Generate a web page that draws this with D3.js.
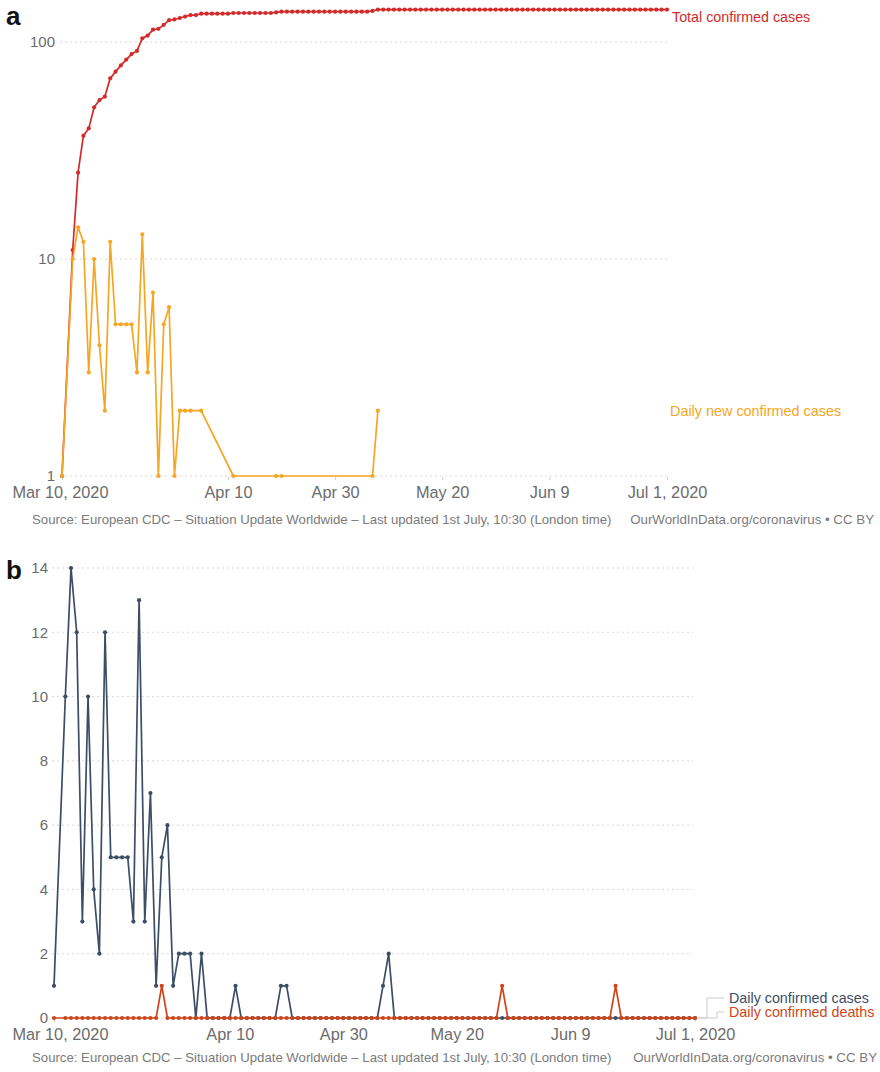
<!DOCTYPE html>
<html>
<head>
<meta charset="utf-8">
<script src="https://cdn.jsdelivr.net/npm/d3@7"></script>
<style>
  body { margin: 0; background: #fff; }
  svg { display: block; font-family: "Liberation Sans", Arial, Helvetica, sans-serif; }
</style>
</head>
<body>
<svg id="chart" width="880" height="1072"></svg>
<script>
// Daily reporting period (one entry per calendar day; null = no report that day)
const firstDay = "2020-03-10";
const lastDay = "2020-07-01";

// Daily new confirmed cases
const dailyCases = [
  // Mar 10 – Mar 31
  1, null, 10, 14, 12, 3, 10, 4, 2, 12, 5, 5, 5, 5, 3, 13, 3, 7, 1, 5, 6, 1,
  // Apr 1 – Apr 30
  2, 2, 2, 0, 2, 0, 0, 0, 0, 0, 1, 0, 0, 0, 0, 0, 0, 0, 1, 1, 0, 0, 0, 0, 0, 0, 0, 0, 0, 0,
  // May 1 – May 31
  0, 0, 0, 0, 0, 0, 1, 2, 0, 0, 0, 0, 0, 0, 0, 0, 0, 0, 0, 0, 0, 0, 0, 0, 0, 0, 0, 0, 0, 0, 0,
  // Jun 1 – Jun 30
  0, 0, 0, 0, 0, 0, 0, 0, 0, 0, 0, 0, 0, 0, 0, 0, 0, 0, 0, 0, 0, 0, 0, 0, 0, 0, 0, 0, 0, 0,
  // Jul 1
  0
];

// Total confirmed cases
const totalCases = [
  // Mar 10 – Mar 31
  1, null, 11, 25, 37, 40, 50, 54, 56, 68, 73, 78, 83, 88, 91, 104, 107, 114, 115, 120, 126, 127,
  // Apr 1 – Apr 30
  129, 131, 133, 133, 135, 135, 135, 135, 135, 135, 136, 136, 136, 136, 136, 136, 136, 136, 137, 138,
  138, 138, 138, 138, 138, 138, 138, 138, 138, 138,
  // May 1 – May 31
  138, 138, 138, 138, 138, 138, 139, 141, 141, 141, 141, 141, 141, 141, 141, 141, 141, 141, 141, 141,
  141, 141, 141, 141, 141, 141, 141, 141, 141, 141, 141,
  // Jun 1 – Jun 30
  141, 141, 141, 141, 141, 141, 141, 141, 141, 141, 141, 141, 141, 141, 141, 141, 141, 141, 141, 141,
  141, 141, 141, 141, 141, 141, 141, 141, 141, 141,
  // Jul 1
  141
];

// Daily confirmed deaths
const dailyDeaths = [
  // Mar 10 – Mar 31
  0, null, 0, 0, 0, 0, 0, 0, 0, 0, 0, 0, 0, 0, 0, 0, 0, 0, 0, 1, 0, 0,
  // Apr 1 – Apr 30
  0, 0, 0, 0, 0, 0, 0, 0, 0, 0, 0, 0, 0, 0, 0, 0, 0, 0, 0, 0, 0, 0, 0, 0, 0, 0, 0, 0, 0, 0,
  // May 1 – May 31
  0, 0, 0, 0, 0, 0, 0, 0, 0, 0, 0, 0, 0, 0, 0, 0, 0, 0, 0, 0, 0, 0, 0, 0, 0, 0, 0, 1, 0, 0, 0,
  // Jun 1 – Jun 30
  0, 0, 0, 0, 0, 0, 0, 0, 0, 0, 0, 0, 0, 0, 0, 0, 1, 0, 0, 0, 0, 0, 0, 0, 0, 0, 0, 0, 0, 0,
  // Jul 1
  0
];

// Axis ticks
const dateTicks = ["2020-03-10", "2020-04-10", "2020-04-30", "2020-05-20", "2020-06-09", "2020-07-01"];
const dateTickLabels = ["Mar 10, 2020", "Apr 10", "Apr 30", "May 20", "Jun 9", "Jul 1, 2020"];
const logTicks = [1, 10, 100];
const linearTicks = [0, 2, 4, 6, 8, 10, 12, 14];

const sourceText = "Source: European CDC \u2013 Situation Update Worldwide \u2013 Last updated 1st July, 10:30 (London time)";
const creditText = "OurWorldInData.org/coronavirus \u2022 CC BY";

const colors = {
  total: "#d42a2a",
  newCases: "#f5a623",
  cases: "#3c4e66",
  deaths: "#cf4519",
  grid: "#d9d9d9",
  tick: "#6b6b6b",
  source: "#7b7b7b"
};

const parse = d3.utcParse("%Y-%m-%d");
const days = d3.utcDay.range(parse(firstDay), d3.utcDay.offset(parse(lastDay), 1));

function toPoints(values, keep) {
  return days.map((d, i) => ({ date: d, value: values[i] }))
    .filter(p => p.value != null && keep(p.value));
}

const svg = d3.select("#chart");

function drawGrid(g, y, ticks, x0, x1) {
  g.append("g").selectAll("line").data(ticks).join("line")
    .attr("x1", x0).attr("x2", x1)
    .attr("y1", d => y(d)).attr("y2", d => y(d))
    .attr("stroke", colors.grid).attr("stroke-width", 1)
    .attr("stroke-dasharray", "2,3");
}

function drawYLabels(g, y, ticks, xRight) {
  g.append("g").selectAll("text").data(ticks).join("text")
    .attr("x", xRight).attr("y", d => y(d)).attr("dy", "0.35em")
    .attr("text-anchor", "end")
    .attr("font-size", 15).attr("fill", colors.tick)
    .text(d => d);
}

function drawXAxis(g, x, yBase) {
  const axis = d3.axisBottom(x)
    .tickValues(dateTicks.map(parse))
    .tickFormat((d, i) => dateTickLabels[i])
    .tickSize(3).tickPadding(6);
  const ax = g.append("g").attr("transform", `translate(0,${yBase})`).call(axis);
  ax.select(".domain").remove();
  ax.selectAll(".tick line").attr("stroke", "#cfcfcf");
  ax.selectAll(".tick text").attr("font-size", 16.3).attr("fill", colors.tick)
    .attr("font-family", "'Liberation Sans', Arial, sans-serif");
  // keep the first label inside the left margin
  ax.selectAll(".tick").filter((d, i) => i === 0).select("text")
    .attr("text-anchor", "start").attr("x", 12 - x(parse(dateTicks[0])));
}

function drawSeries(g, x, y, points, color) {
  const line = d3.line().x(d => x(d.date)).y(d => y(d.value));
  g.append("path").datum(points)
    .attr("fill", "none").attr("stroke", color)
    .attr("stroke-width", 1.7).attr("stroke-linejoin", "round")
    .attr("d", line);
  g.append("g").selectAll("circle").data(points).join("circle")
    .attr("cx", d => x(d.date)).attr("cy", d => y(d.value))
    .attr("r", 2.1).attr("fill", color);
}

function drawSource(g, yBase, x0, x1) {
  g.append("text").attr("x", x0).attr("y", yBase)
    .attr("font-size", 13.2).attr("fill", colors.source).text(sourceText);
  g.append("text").attr("x", x1).attr("y", yBase).attr("text-anchor", "end")
    .attr("font-size", 13.3).attr("fill", colors.source).text(creditText);
}

// ---------- Panel a: log scale, total and daily new confirmed cases ----------
{
  const g = svg.append("g");
  const x = d3.scaleUtc().domain([parse(firstDay), parse(lastDay)]).range([62, 667]);
  const y = d3.scaleLog().domain([1, 100]).range([476, 42]);

  g.append("text").attr("x", 6).attr("y", 25)
    .attr("font-size", 26).attr("font-weight", "bold").attr("fill", "#111").text("a");

  drawGrid(g, y, logTicks, 60, 667);
  drawYLabels(g, y, logTicks, 55);
  drawXAxis(g, x, 477);

  drawSeries(g, x, y, toPoints(totalCases, v => v > 0), colors.total);
  drawSeries(g, x, y, toPoints(dailyCases, v => v > 0), colors.newCases);

  g.append("text").attr("x", 672).attr("y", 22)
    .attr("font-size", 14.3).attr("fill", colors.total).text("Total confirmed cases");
  g.append("text").attr("x", 670).attr("y", 416)
    .attr("font-size", 14.4).attr("fill", colors.newCases).text("Daily new confirmed cases");

  drawSource(g, 524, 32, 874);
}

// ---------- Panel b: linear scale, daily cases and deaths ----------
{
  const g = svg.append("g");
  const x = d3.scaleUtc().domain([parse(firstDay), parse(lastDay)]).range([54, 695]);
  const y = d3.scaleLinear().domain([0, 14]).range([1018, 568]);

  g.append("text").attr("x", 6).attr("y", 579)
    .attr("font-size", 26).attr("font-weight", "bold").attr("fill", "#111").text("b");

  drawGrid(g, y, linearTicks, 52, 693);
  drawYLabels(g, y, linearTicks, 48);
  drawXAxis(g, x, 1019);

  drawSeries(g, x, y, toPoints(dailyCases, () => true), colors.cases);
  drawSeries(g, x, y, toPoints(dailyDeaths, () => true), colors.deaths);

  // legend connectors from the series ends to their labels
  const xEnd = x(parse(lastDay));
  const y0 = y(0);
  const legend = [
    { name: "Daily confirmed cases", color: colors.cases, ly: 998, bend: 707 },
    { name: "Daily confirmed deaths", color: colors.deaths, ly: 1012, bend: 717 }
  ];
  legend.forEach(l => {
    g.append("path")
      .attr("d", `M${xEnd + 3},${y0}H${l.bend}V${l.ly}H${724}`)
      .attr("fill", "none").attr("stroke", "#cccccc").attr("stroke-width", 1);
    g.append("text").attr("x", 729).attr("y", l.ly).attr("dy", "0.35em")
      .attr("font-size", 14.3).attr("fill", l.color).text(l.name);
  });

  drawSource(g, 1062, 32, 877);
}
</script>
</body>
</html>
